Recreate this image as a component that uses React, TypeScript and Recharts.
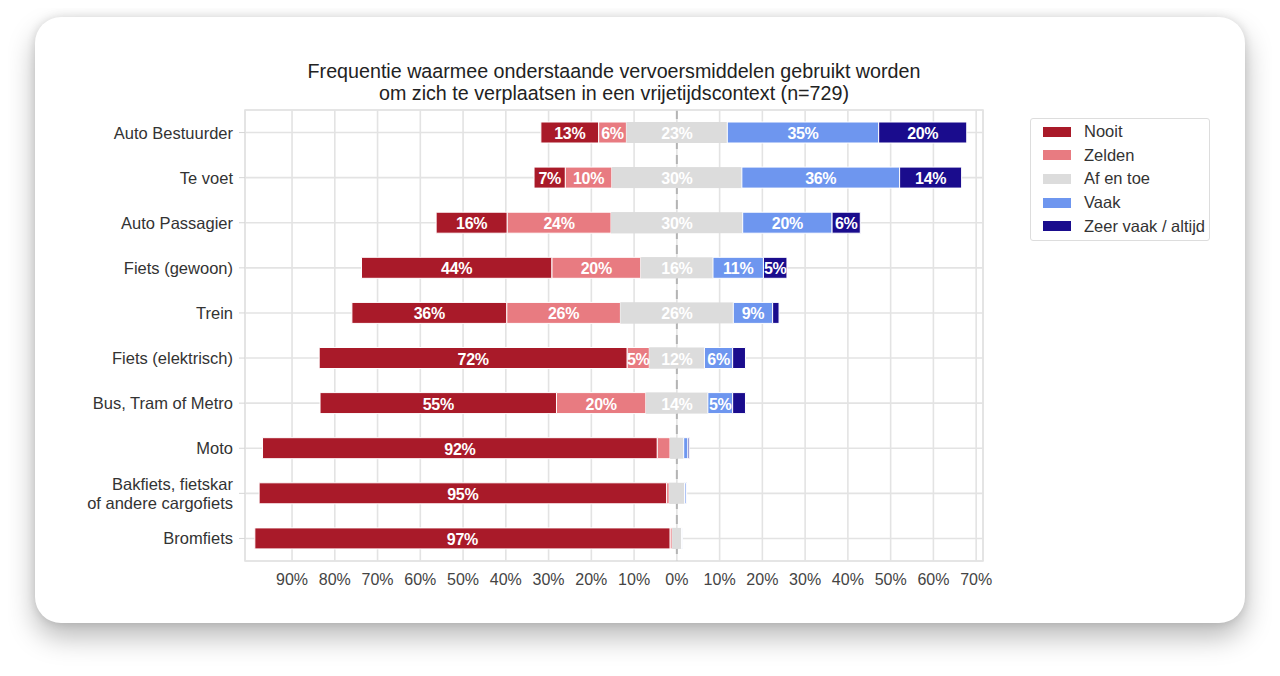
import React from 'react';
import {
  BarChart,
  Bar,
  XAxis,
  YAxis,
  CartesianGrid,
  ReferenceArea,
  LabelList,
} from 'recharts';

// categorieën van boven naar onder
const categories = [
  'Auto Bestuurder',
  'Te voet',
  'Auto Passagier',
  'Fiets (gewoon)',
  'Trein',
  'Fiets (elektrisch)',
  'Bus, Tram of Metro',
  'Moto',
  'Bakfiets, fietskar\nof andere cargofiets',
  'Bromfiets',
];

// aandelen in %
const nooit = [13.5, 7.3, 16.6, 44.5, 36.2, 72.0, 55.3, 92.3, 95.3, 97.1];
const zelden = [6.5, 10.9, 24.3, 20.8, 26.6, 5.2, 20.9, 3.0, 0.6, 0.5];
const afEnToe = [23.6, 30.4, 30.8, 16.9, 26.4, 12.9, 14.5, 3.2, 3.6, 2.2];
const vaak = [35.4, 36.9, 20.9, 11.8, 9.2, 6.6, 5.8, 1.0, 0.4, 0.2];
const zeerVaak = [20.6, 14.5, 6.6, 5.5, 1.5, 3.0, 3.0, 0.3, 0.1, 0.0];

const xTicks = [-90, -80, -70, -60, -50, -40, -30, -20, -10, 0, 10, 20, 30, 40, 50, 60, 70];
const xDomain = [-101, 71.6];

const legendNames = ['Nooit', 'Zelden', 'Af en toe', 'Vaak', 'Zeer vaak / altijd'];
const colors = ['#a91a29', '#e87b81', '#dcdcdc', '#6e96ef', '#1a0c8d'];

const data = categories.map((name, i) => ({
  name,
  afLinks: -afEnToe[i] / 2,
  zelden: -zelden[i],
  nooit: -nooit[i],
  afRechts: afEnToe[i] / 2,
  vaak: vaak[i],
  zeerVaak: zeerVaak[i],
}));

const FONT = '"Liberation Sans", Arial, sans-serif';
const PLOT_LEFT = 245;
const PLOT_RIGHT = 983;

const makeLabel = (scale: number, atStart: boolean) => (props: any) => {
  const { x, y, width, height, value } = props;
  const full = Math.abs(Number(value) * scale);
  if (!(full >= 4)) return null;
  const cx = atStart ? x : x + width / 2;
  return (
    <text
      x={cx}
      y={y + height / 2 + 1}
      textAnchor="middle"
      dominantBaseline="central"
      fill="#ffffff"
      fontFamily={'"Liberation Sans Narrow", "Arial Narrow", "Liberation Sans", Arial, sans-serif'}
      fontWeight="bold"
      fontSize={16}
      letterSpacing={-0.3}
    >
      {Math.floor(full + 1e-9)}%
    </text>
  );
};

const YTick = (props: any) => {
  const { x, y, payload } = props;
  const lines = String(payload.value).split('\n');
  const lh = 19;
  const y0 = y - ((lines.length - 1) * lh) / 2;
  return (
    <text textAnchor="end" fill="#333333" fontFamily={FONT} fontSize={16.5}>
      {lines.map((l, i) => (
        <tspan key={i} x={x - 4} y={y0 + i * lh} dominantBaseline="central">
          {l}
        </tspan>
      ))}
    </text>
  );
};

// gestippelde nullijn als raster (onder de balken)
const zeroLine = (p: any) => {
  const sc = p?.xAxis?.scale;
  if (typeof sc === 'function') {
    const v = sc(0);
    if (Number.isFinite(v)) return [v];
  }
  return [PLOT_LEFT + ((PLOT_RIGHT - PLOT_LEFT) * (0 - xDomain[0])) / (xDomain[1] - xDomain[0])];
};

// één doorlopend blok voor "af en toe" rond de nullijn
const AfShape = (props: any) => {
  const { x, y, width, height } = props;
  if (![x, y, width, height].every(Number.isFinite)) return null;
  const w = Math.abs(width);
  const x0 = width >= 0 ? x : x + width;
  return <rect x={x0 - w} y={y} width={2 * w} height={height} fill={colors[2]} />;
};

export default function App() {
  return (
    <div
      style={{
        position: 'relative',
        width: 1280,
        height: 676,
        margin: -8,
        background: '#ffffff',
        overflow: 'hidden',
        fontFamily: FONT,
      }}
    >
      <div
        style={{
          position: 'absolute',
          left: 35,
          top: 17,
          width: 1210,
          height: 606,
          background: '#ffffff',
          borderRadius: 26,
          boxShadow: '0 14px 28px rgba(0,0,0,0.28), 0 0 10px rgba(0,0,0,0.12)',
        }}
      />
      <div
        style={{
          position: 'absolute',
          left: PLOT_LEFT - 20,
          width: PLOT_RIGHT - PLOT_LEFT + 40,
          top: 61,
          textAlign: 'center',
          fontSize: 19.7,
          lineHeight: '21.5px',
          color: '#222222',
        }}
      >
        Frequentie waarmee onderstaande vervoersmiddelen gebruikt worden
        <br />
        om zich te verplaatsen in een vrijetijdscontext (n=729)
      </div>
      <div style={{ position: 'absolute', left: 0, top: 0 }}>
        <BarChart
          width={1280}
          height={676}
          data={data}
          layout="vertical"
          stackOffset="sign"
          barCategoryGap={0}
          margin={{ top: 110, right: 1280 - PLOT_RIGHT, bottom: 85, left: 0 }}
        >
          <CartesianGrid stroke="#e3e3e3" strokeWidth={1.6} />
          <CartesianGrid
            horizontal={false}
            stroke="#b4b4b4"
            strokeWidth={2}
            strokeDasharray="9 6"
            verticalCoordinatesGenerator={zeroLine}
          />
          <ReferenceArea
            x1={xDomain[0]}
            x2={xDomain[1]}
            fill="none"
            stroke="#e3e3e3"
            strokeWidth={1.6}
            fillOpacity={0}
          />
          <XAxis
            type="number"
            domain={xDomain}
            allowDataOverflow
            ticks={xTicks}
            interval={0}
            tickFormatter={(v: number) => `${Math.abs(v)}%`}
            axisLine={false}
            tickLine={false}
            tickMargin={7}
            height={30}
            tick={{ fill: '#444444', fontSize: 16, fontFamily: FONT }}
          />
          <YAxis
            type="category"
            dataKey="name"
            width={PLOT_LEFT}
            interval={0}
            axisLine={false}
            tickLine={{ stroke: '#d6d6d6' }}
            tickSize={6}
            tick={<YTick />}
          />
          <Bar dataKey="afLinks" stackId="s" fill={colors[2]} barSize={21} isAnimationActive={false} />
          <Bar dataKey="zelden" stackId="s" fill={colors[1]} stroke="#ffffff" strokeWidth={1} barSize={21} isAnimationActive={false}>
            <LabelList dataKey="zelden" content={makeLabel(1, false)} />
          </Bar>
          <Bar dataKey="nooit" stackId="s" fill={colors[0]} stroke="#ffffff" strokeWidth={1} barSize={21} isAnimationActive={false}>
            <LabelList dataKey="nooit" content={makeLabel(1, false)} />
          </Bar>
          <Bar dataKey="afRechts" stackId="s" fill={colors[2]} barSize={21} shape={<AfShape />} isAnimationActive={false}>
            <LabelList dataKey="afRechts" content={makeLabel(2, true)} />
          </Bar>
          <Bar dataKey="vaak" stackId="s" fill={colors[3]} stroke="#ffffff" strokeWidth={1} barSize={21} isAnimationActive={false}>
            <LabelList dataKey="vaak" content={makeLabel(1, false)} />
          </Bar>
          <Bar dataKey="zeerVaak" stackId="s" fill={colors[4]} stroke="#ffffff" strokeWidth={1} barSize={21} isAnimationActive={false}>
            <LabelList dataKey="zeerVaak" content={makeLabel(1, false)} />
          </Bar>
        </BarChart>
      </div>
      <div
        style={{
          position: 'absolute',
          left: 1030,
          top: 118,
          width: 180,
          height: 123,
          border: '1px solid #dddddd',
          borderRadius: 3,
          background: '#ffffff',
          boxSizing: 'border-box',
          paddingTop: 1,
        }}
      >
        {legendNames.map((n, i) => (
          <div
            key={n}
            style={{ display: 'flex', alignItems: 'center', height: 23.6, paddingLeft: 12 }}
          >
            <span
              style={{ display: 'inline-block', width: 28, height: 10, background: colors[i], marginRight: 13 }}
            />
            <span style={{ fontSize: 16.5, color: '#333333' }}>{n}</span>
          </div>
        ))}
      </div>
    </div>
  );
}
